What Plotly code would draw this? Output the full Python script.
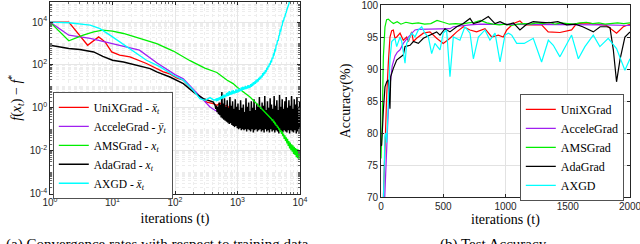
import plotly.graph_objects as go
import numpy as np

# ---------------- Left panel data (log10 of f(x_t) - f*) ----------------
t_tail = [450, 461, 473, 485, 497, 509, 522, 535, 548, 562, 576, 590, 605, 620, 636, 652,
          668, 685, 702, 719, 737, 756, 775, 794, 814, 834, 855, 877, 899, 921, 944, 968,
          992, 1017, 1042, 1068, 1095, 1122, 1150, 1179, 1209, 1239, 1270, 1302, 1334, 1368,
          1402, 1437, 1473, 1510, 1547, 1586, 1626, 1666, 1708, 1751, 1794, 1839, 1885, 1933,
          1981, 2030, 2081, 2133, 2187, 2241, 2297, 2355, 2414, 2474, 2536, 2599, 2664, 2731,
          2799, 2869, 2941, 3014, 3090, 3167, 3246, 3327, 3411, 3496, 3583, 3673, 3765, 3859,
          3955, 4054, 4156, 4260, 4366, 4475, 4587, 4702, 4819, 4940, 5063, 5190, 5320, 5453,
          5589, 5729, 5872, 6019, 6169, 6324, 6482, 6644, 6810, 6980, 7155, 7334, 7517, 7705,
          7897, 8095, 8297, 8505, 8717, 8935, 9159, 9388, 9623, 9863, 10000]

unix_t = [1, 2, 4, 6, 7.6, 9.7, 13, 19, 35, 65, 83, 106, 136, 220, 320, 410, 470, 525,
          600, 676, 760, 860, 950, 1040]
unix_log = [4.0, 4.0, 2.92, 3.31, 3.08, 2.61, 2.46, 2.38, 2.07, 1.68, 1.58, 1.40, 1.29,
            0.67, 0.27, 0.20, 0.12, 0.22, 0.05, 0.12, -0.05, -0.12, -0.08, -0.20]

accel_t = [1, 2, 4.4, 8, 15, 27, 51, 83, 100, 136, 196, 302, 363, 430, 500]
accel_log = [4.0, 3.39, 3.24, 3.05, 2.85, 2.69, 2.10, 1.70, 1.55, 1.35, 0.85, 0.27, 0.04,
             -0.10, -0.20]

ams_head_t = [1, 2, 3.4, 5, 7, 10, 15, 27, 51, 94, 174, 300, 468, 676, 850, 1000, 1585,
              2290, 3000]
ams_head_log = [4.0, 3.13, 3.39, 3.55, 3.63, 3.58, 3.47, 3.24, 3.00, 2.65, 2.20, 1.85, 1.65,
                1.30, 1.13, 0.95, 0.50, 0.04, -0.30]
ams_tail_log = [-0.35, -0.40, -0.42, -0.47, -0.50, -0.52, -0.58, -0.56, -0.66, -0.64, -0.74,
                -0.72, -0.84, -0.80, -0.92, -0.88, -1.02, -0.96, -1.12, -1.04, -1.22, -1.10,
                -1.32, -1.20, -1.45, -1.28, -1.55, -1.38, -1.66, -1.45, -1.78, -1.55, -1.90,
                -1.62, -1.98, -1.70, -2.05, -1.75, -2.15, -1.82, -2.20, -1.88, -2.30, -1.92,
                -2.35, -1.95, -2.40, -1.98, -2.25]

ada_head_t = [1, 2, 3, 5, 7, 10, 15, 20, 28, 40, 51, 83, 136, 196, 284, 410, 440]
ada_head_log = [2.92, 2.77, 2.72, 2.61, 2.40, 2.22, 2.14, 2.05, 1.91, 1.83, 1.68, 1.44, 1.13,
                0.74, 0.43, 0.27, 0.10]
ada_tail_log = [-0.05, 0.10, -0.20, 0.05, -0.30, 0.25, -0.35, 0.15, -0.45, 0.74, -0.50, 0.20,
                -0.55, 0.45, -0.60, 0.05, -0.65, 0.35, -0.70, 0.00, -0.75, 0.50, -0.72, 0.10,
                -0.80, 0.30, -0.85, -0.05, -0.90, 0.40, -0.85, 0.05, -0.95, 0.20, -1.00, -0.10,
                -0.95, 0.35, -1.05, 0.00, -1.00, 0.15, -1.05, -0.20, -1.00, 0.45, -1.10, 0.05,
                -1.00, 0.25, -1.05, -0.15, -1.10, 0.30, -1.00, 0.00, -1.15, 0.40, -1.05, -0.10,
                -1.00, 0.20, -1.10, 0.05, -1.05, 0.50, -1.00, -0.05, -1.10, 0.25, -1.05, 0.10,
                -1.15, 0.55, -1.00, -0.10, -1.10, 0.30, -1.05, 0.00, -1.15, 0.45, -1.00, 0.15,
                -1.10, -0.05, -1.05, 0.55, -1.15, 0.10, -1.05, 0.35, -1.10, -0.10, -1.20, 0.60,
                -1.05, 0.05, -1.10, 0.40, -1.15, -0.05, -1.05, 0.30, -1.10, 0.50, -1.15, 0.00,
                -1.05, 0.35, -1.20, 0.10, -1.05, 0.55, -1.10, -0.05, -1.15, 0.40, -1.05, 0.15,
                -1.20, 0.50, -1.10, 0.05, -1.15, 0.30, -0.90]

axgd_head_t = [1, 2, 4.4, 6.3, 9.1, 13, 21, 35, 58, 94, 136, 196, 251, 302, 363, 420]
axgd_head_log = [4.0, 3.97, 3.86, 3.70, 3.39, 3.08, 2.69, 2.22, 1.91, 1.52, 1.29, 0.82, 0.43,
                 0.35, 0.48, 0.36]
axgd_tail_log = [0.40, 0.30, 0.45, 0.33, 0.48, 0.36, 0.50, 0.38, 0.55, 0.42, 0.58, 0.45, 0.62,
                 0.48, 0.60, 0.52, 0.68, 0.55, 0.72, 0.56, 0.78, 0.60, 0.74, 0.62, 0.80, 0.64,
                 0.82, 0.66, 0.78, 0.68, 0.86, 0.70, 0.84, 0.72, 0.90, 0.76, 0.88, 0.78, 0.95,
                 0.80, 0.98, 0.84, 0.96, 0.86, 1.02, 0.88, 1.00, 0.90, 1.06, 0.92, 1.04, 0.94,
                 1.10, 0.98, 1.14, 1.02, 1.20, 1.08, 1.24, 1.12, 1.30, 1.18, 1.34, 1.22, 1.40,
                 1.30, 1.46, 1.36, 1.52, 1.42, 1.62, 1.50, 1.68, 1.58, 1.76, 1.66, 1.86, 1.78,
                 1.96, 1.90, 2.08, 2.00, 2.20, 2.12, 2.34, 2.30, 2.50, 2.48, 2.70, 2.68, 2.92,
                 2.95, 3.15, 3.12, 3.35, 3.40, 3.62, 3.60, 3.80, 3.85, 4.05, 4.05, 4.20, 4.25,
                 4.40, 4.45, 4.58, 4.65, 4.80, 4.85, 5.00, 5.10, 5.20, 5.30]

left_names = ["UniXGrad - <i>x\u0304<sub>t</sub></i>", "AcceleGrad - <i>y\u0304<sub>t</sub></i>",
              "AMSGrad - <i>x<sub>t</sub></i>", "AdaGrad - <i>x<sub>t</sub></i>",
              "AXGD - <i>x\u0304<sub>t</sub></i>"]
left_yticks = [1e-4, 1e-2, 1, 1e2, 1e4]
left_yticktext = ["10<sup>-4</sup>", "10<sup>-2</sup>", "10<sup>0</sup>", "10<sup>2</sup>", "10<sup>4</sup>"]
left_xticks = [1, 10, 100, 1000, 10000]
left_xticktext = ["10<sup>0</sup>", "10<sup>1</sup>", "10<sup>2</sup>", "10<sup>3</sup>", "10<sup>4</sup>"]

# ---------------- Right panel data (test accuracy %) ----------------
r_unix_t = [19, 30, 46, 59, 72, 86, 99, 112, 126, 153, 179, 206, 220, 246, 260, 286, 340, 393,
            447, 500, 554, 608, 661, 715, 768, 835, 889, 942, 982, 1010, 1063, 1116, 1150, 1223,
            1290, 1343, 1437, 1531, 1571, 1650, 1758, 1812, 1892, 1946, 2000]
r_unix = [70, 78, 86, 91, 95.0, 96.0, 96.1, 94.8, 95.0, 95.6, 94.5, 95.0, 94.3, 95.8, 94.3,
          94.8, 95.6, 95.8, 94.8, 94.0, 94.8, 95.8, 96.6, 96.1, 95.8, 96.3, 95.0, 95.3, 95.0,
          96.1, 97.1, 97.5, 96.9, 96.9, 96.9, 95.8, 95.7, 96.1, 97.1, 97.2, 97.0, 96.8, 95.6,
          96.6, 97.0]

r_accel_t = [30, 40, 55, 70, 90, 112, 130, 153, 179, 210, 233, 273, 300, 400, 500, 554, 581,
             650, 715, 800, 849, 900, 1000, 1200, 1400, 1600, 1800, 2000]
r_accel = [70, 75, 82, 87, 90.5, 92.0, 92.6, 93.0, 94.0, 94.8, 95.3, 96.1, 96.2, 96.2, 96.2,
           96.3, 96.6, 96.8, 96.9, 97.0, 97.0, 97.0, 97.0, 97.0, 97.0, 97.0, 96.9, 96.8]

r_ams_t = [0, 10, 19, 32, 45, 59, 80, 100, 130, 160, 200, 250, 300, 350, 400, 450, 500, 550,
           600, 650, 700, 750, 800, 850, 900, 950, 1000, 1050, 1100, 1150, 1200, 1250, 1300,
           1350, 1400, 1450, 1500, 1550, 1600, 1650, 1700, 1750, 1800, 1850, 1900, 1950, 2000]
r_ams = [76.0, 82.0, 91.9, 96.6, 97.7, 97.8, 97.4, 97.1, 97.4, 97.0, 97.3, 97.1, 97.2, 97.0,
         97.1, 97.6, 97.3, 97.0, 97.1, 97.0, 97.2, 97.3, 97.6, 97.2, 97.0, 96.9, 97.0, 96.8,
         97.0, 97.1, 97.0, 97.2, 97.1, 97.3, 97.0, 97.2, 97.1, 97.0, 97.2, 97.3, 97.1, 97.2,
         97.0, 97.1, 97.2, 97.1, 97.2]

r_ada_t = [0, 5, 19, 32, 46, 59, 72, 78, 99, 126, 152, 179, 193, 233, 260, 300, 340, 393, 447,
           474, 514, 554, 608, 661, 715, 742, 795, 862, 916, 956, 1010, 1063, 1116, 1170, 1223,
           1290, 1350, 1420, 1491, 1560, 1620, 1705, 1760, 1812, 1839, 1866, 1892, 1920, 1959,
           2000]
r_ada = [78.0, 78.1, 83.6, 87.2, 88.0, 88.3, 83.8, 88.8, 90.1, 91.4, 91.8, 92.2, 93.5, 93.7,
         94.3, 94.0, 94.8, 95.3, 95.8, 95.3, 96.3, 95.8, 96.6, 97.1, 97.9, 97.1, 97.4, 98.2,
         97.1, 97.4, 96.9, 97.2, 96.1, 97.0, 97.4, 97.3, 97.2, 97.4, 96.9, 97.0, 96.6, 95.8,
         96.6, 96.6, 96.5, 93.0, 88.0, 91.5, 95.0, 95.8]

r_axgd_t = [20, 32, 40, 46, 59, 72, 86, 99, 112, 126, 153, 166, 193, 206, 246, 273, 300, 327,
            353, 380, 407, 433, 474, 500, 527, 554, 581, 634, 674, 715, 742, 782, 835, 875, 916,
            956, 996, 1023, 1050, 1090, 1150, 1223, 1290, 1344, 1384, 1437, 1531, 1585, 1638,
            1705, 1758, 1825, 1892, 1959, 2000]
r_axgd = [70, 79.5, 80.0, 78.5, 85.0, 91.5, 94.3, 94.5, 94.8, 93.5, 95.0, 94.3, 90.9, 94.0,
          95.6, 95.0, 96.1, 96.6, 95.6, 95.0, 92.4, 94.0, 93.0, 95.6, 96.1, 88.8, 95.0, 94.5,
          96.6, 95.6, 91.6, 95.0, 96.1, 94.5, 95.6, 91.1, 95.3, 95.6, 95.3, 94.0, 94.0, 94.8,
          91.1, 94.5, 93.7, 91.9, 95.3, 91.6, 93.5, 95.3, 93.5, 94.8, 93.2, 89.8, 91.6]

right_names = ["UniXGrad", "AcceleGrad", "AMSGrad", "AdaGrad", "AXGD"]
right_xticks = [0, 500, 1000, 1500, 2000]
right_yticks = [70, 75, 80, 85, 90, 95, 100]

colors = ["#ff0000", "#a020f0", "#00ee00", "#000000", "#00ffff"]

SERIF = "Liberation Serif, Times New Roman, serif"
SANS = "Liberation Sans, Arial, sans-serif"
TICKC = "#262626"

fig = go.Figure()

def L(v):
    return (10 ** np.array(v, dtype=float)).tolist()

left_series = [
    (0, unix_t, L(unix_log), 1.3),
    (1, accel_t, L(accel_log), 1.3),
    (3, ada_head_t + t_tail, L(ada_head_log + ada_tail_log), 1.5),
    (2, ams_head_t + t_tail[78:], L(ams_head_log + ams_tail_log), 1.3),
    (4, axgd_head_t + t_tail[:len(axgd_tail_log)], L(axgd_head_log + axgd_tail_log), 1.4),
]
for i, xs, ys, w in left_series:
    fig.add_trace(go.Scatter(x=xs, y=ys, mode="lines", name=left_names[i],
                             line=dict(color=colors[i], width=w),
                             xaxis="x", yaxis="y", legend="legend", legendrank=i + 1))

right_series = [
    (0, r_unix_t, r_unix),
    (1, r_accel_t, r_accel),
    (2, r_ams_t, r_ams),
    (3, r_ada_t, r_ada),
    (4, r_axgd_t, r_axgd),
]
for i, xs, ys in right_series:
    fig.add_trace(go.Scatter(x=xs, y=ys, mode="lines", name=right_names[i],
                             line=dict(color=colors[i], width=1.2),
                             xaxis="x2", yaxis="y2", legend="legend2", legendrank=i + 1))

axis_common = dict(showline=True, linecolor=TICKC, linewidth=0.8, mirror="ticks",
                   ticks="inside", ticklen=3, tickcolor=TICKC, zeroline=False,
                   automargin=False, ticklabeloverflow="allow",
                   tickfont=dict(family=SANS, size=10, color=TICKC))

title_font = dict(family=SERIF, size=14, color="#000")

fig.update_layout(
    width=640, height=244, autosize=False,
    margin=dict(l=0, r=0, t=0, b=0, pad=0),
    paper_bgcolor="white", plot_bgcolor="white",
    xaxis=dict(domain=[50 / 640, 300 / 640], anchor="y", type="log", range=[0, 4],
               tickmode="array", tickvals=left_xticks, ticktext=left_xticktext,
               showgrid=True, gridcolor="#e6e6e6", gridwidth=0.6,
               minor=dict(showgrid=True, gridcolor="#ededed", griddash="dot", dtick="D1",
                          ticks="inside", ticklen=2, tickcolor="#666"),
               title=dict(text="iterations (t)", font=title_font, standoff=5),
               **axis_common),
    yaxis=dict(domain=[(244 - 193.5) / 244, (244 - 2) / 244], anchor="x", type="log",
               range=[-4, 4.94], tickmode="array", tickvals=left_yticks, ticktext=left_yticktext,
               showgrid=True, gridcolor="#e6e6e6", gridwidth=0.6,
               minor=dict(showgrid=True, gridcolor="#ededed", griddash="dot", dtick="D1",
                          ticks="inside", ticklen=2, tickcolor="#666"),
               title=dict(text="<i>f</i>(<i>x<sub>t</sub></i>) \u2212 <i>f</i><sup>*</sup>",
                          font=title_font, standoff=4),
               **axis_common),
    xaxis2=dict(domain=[381 / 640, 630 / 640], anchor="y2", range=[0, 2000],
                tickvals=right_xticks, showgrid=True, gridcolor="#e2e2e2", gridwidth=0.8,
                title=dict(text="iterations (t)", font=title_font, standoff=3),
                **axis_common),
    yaxis2=dict(domain=[(244 - 197) / 244, (244 - 5) / 244], anchor="x2", range=[70, 100],
                tickvals=right_yticks, showgrid=True, gridcolor="#e2e2e2", gridwidth=0.8,
                title=dict(text="Accuracy(%)", font=title_font, standoff=7),
                **axis_common),
    legend=dict(x=53 / 640, y=(244 - 92) / 244, xanchor="left", yanchor="top",
                bgcolor="white", bordercolor=TICKC, borderwidth=0.8,
                font=dict(family=SERIF, size=11.5, color="#000"), tracegroupgap=0,
                itemwidth=30),
    legend2=dict(x=624 / 640, y=(244 - 94) / 244, xanchor="right", yanchor="top",
                 bgcolor="white", bordercolor=TICKC, borderwidth=0.8,
                 font=dict(family=SERIF, size=12, color="#000"), tracegroupgap=0,
                 itemwidth=30),
    showlegend=True,
    annotations=[
        dict(text="(a) Convergence rates with respect to training data", xref="paper",
             yref="paper", x=157 / 640, y=(244 - 234) / 244, xanchor="center", yanchor="top",
             showarrow=False, font=dict(family=SERIF, size=15, color="#000")),
        dict(text="(b) Test Accuracy", xref="paper", yref="paper", x=493 / 640,
             y=(244 - 234) / 244, xanchor="center", yanchor="top", showarrow=False,
             font=dict(family=SERIF, size=15, color="#000")),
    ],
)

fig.write_html("out.html", config={"displayModeBar": False},
               post_script="document.body.style.margin='0px';")
